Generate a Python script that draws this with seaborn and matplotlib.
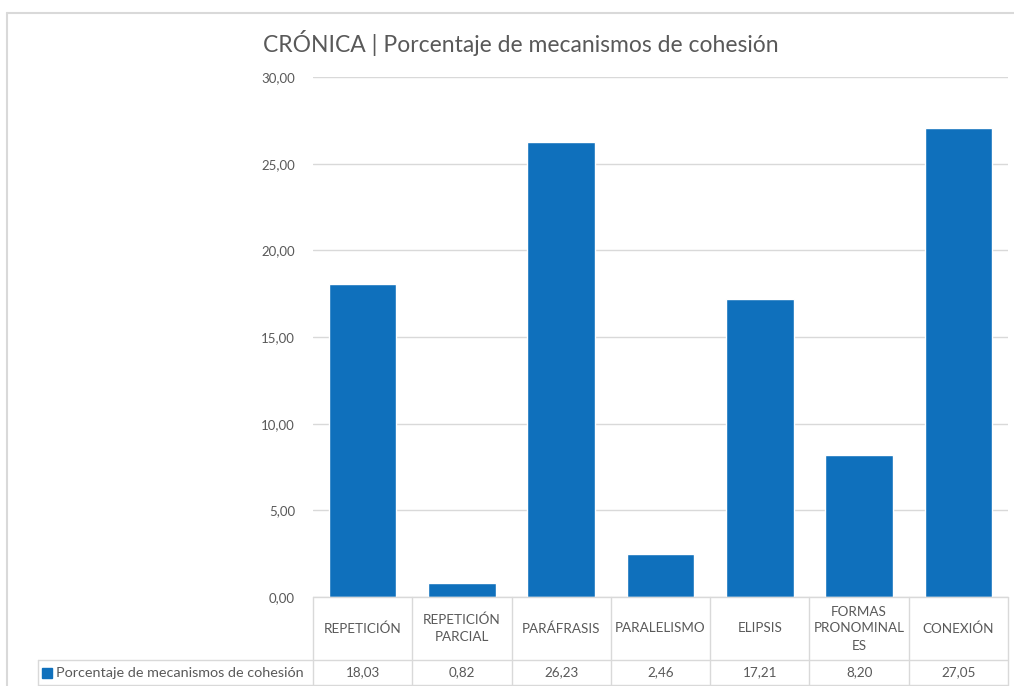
import matplotlib
matplotlib.use("Agg")
import matplotlib.pyplot as plt
import seaborn as sns
import pandas as pd
from matplotlib.lines import Line2D
from matplotlib.patches import Rectangle


# =====================================
# DATA
# =====================================

categories = [
    "REPETICIÓN",
    "REPETICIÓN\nPARCIAL",
    "PARÁFRASIS",
    "PARALELISMO",
    "ELIPSIS",
    "FORMAS\nPRONOMINAL\nES",
    "CONEXIÓN"
]

values = [18.03, 0.82, 26.23, 2.46, 17.21, 8.20, 27.05]

y_ticks = [0, 5, 10, 15, 20, 25, 30]

series_name = "Porcentaje de mecanismos de cohesión"

title = "CRÓNICA | Porcentaje de mecanismos de cohesión"

df = pd.DataFrame({"cat": categories, "val": values})


# =====================================
# STYLE
# =====================================

sns.set_style("white")
plt.rcParams["font.family"] = ["Lato", "DejaVu Sans"]

bar_color = "#0F70BC"
grid_color = "#D9D9D9"
text_color = "#595959"

W, H = 1014, 686
fig = plt.figure(figsize=(W / 100, H / 100), dpi=100)

ax_left, ax_right = 313, 1008
ax_top, ax_bottom = 77, 597
ax = fig.add_axes([
    ax_left / W,
    1 - ax_bottom / H,
    (ax_right - ax_left) / W,
    (ax_bottom - ax_top) / H
])


# =====================================
# BARS
# =====================================

sns.barplot(
    data=df,
    x="cat",
    y="val",
    color=bar_color,
    saturation=1,
    width=0.68,
    ax=ax,
    zorder=3
)

ax.set_xlim(-0.5, len(categories) - 0.5)
ax.set_ylim(0, 30)
ax.set_yticks(y_ticks)
ax.set_yticklabels(
    [f"{t:.2f}".replace(".", ",") for t in y_ticks],
    color=text_color,
    fontsize=9.5
)
ax.tick_params(axis="y", length=0, pad=13)
ax.set_xticks([])
ax.set_xlabel("")
ax.set_ylabel("")
ax.grid(axis="y", color=grid_color, linewidth=1, zorder=0)
for s in ax.spines.values():
    s.set_visible(False)


# =====================================
# DATA TABLE BELOW AXES
# =====================================

# x in category units, y in axes fraction
xt = ax.get_xaxis_transform()

px_per_unit = (ax_right - ax_left) / len(categories)
ax_h = ax_bottom - ax_top
row1 = -(660 - ax_bottom) / ax_h
row2 = -(685 - ax_bottom) / ax_h
legend_x = -0.5 - (ax_left - 38) / px_per_unit

tbl = dict(color=grid_color, linewidth=1, clip_on=False, zorder=4, transform=xt)
n = len(categories)

ax.add_line(Line2D([-0.5, n - 0.5], [0, 0], **tbl))
ax.add_line(Line2D([legend_x, n - 0.5], [row1, row1], **tbl))
ax.add_line(Line2D([legend_x, n - 0.5], [row2, row2], **tbl))
ax.add_line(Line2D([legend_x, legend_x], [row1, row2], **tbl))
for i in range(n + 1):
    ax.add_line(Line2D([i - 0.5, i - 0.5], [0, row2], **tbl))

for i, (c, v) in enumerate(zip(categories, values)):
    ax.text(
        i, row1 / 2, c,
        ha="center", va="center", transform=xt,
        fontsize=9.7, color=text_color,
        linespacing=1.5
    )
    ax.text(
        i, (row1 + row2) / 2, f"{v:.2f}".replace(".", ","),
        ha="center", va="center", transform=xt,
        fontsize=9.7, color=text_color
    )

fig.patches.append(Rectangle(
    (42 / W, 1 - 678 / H), 10 / W, 10 / H,
    transform=fig.transFigure, color=bar_color
))
fig.text(
    56 / W, 1 - 673 / H, series_name,
    ha="left", va="center",
    fontsize=10.4, color=text_color
)


# =====================================
# TITLE AND CHART BORDER
# =====================================

fig.text(
    263 / W, 1 - 43 / H, title,
    ha="left", va="center",
    fontsize=16.5, color=text_color
)

fig.add_artist(Line2D([7 / W, 1], [1 - 13 / H, 1 - 13 / H],
                      transform=fig.transFigure, color=grid_color, linewidth=1.5))
fig.add_artist(Line2D([7 / W, 7 / W], [0, 1 - 13 / H],
                      transform=fig.transFigure, color=grid_color, linewidth=1.5))

plt.savefig("out.png", dpi=100)
plt.close()
